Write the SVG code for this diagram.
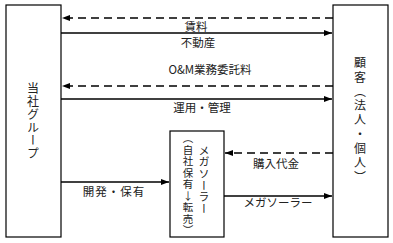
<svg xmlns="http://www.w3.org/2000/svg" width="393" height="243" viewBox="0 0 393 243">
<defs>
<marker id="ah" viewBox="0 0 8 6" refX="8" refY="3" markerWidth="8" markerHeight="6" markerUnits="userSpaceOnUse" orient="auto">
<path d="M0,0 L8,3 L0,6 Z" fill="#000"/>
</marker>
</defs>
<style>
.box{fill:#fff;stroke:#000;stroke-width:1.2}
.ln{stroke:#000;stroke-width:1.5;fill:none}
.d{stroke-dasharray:8 5}
.t{font-family:"Noto Sans CJK JP","Noto Sans",sans-serif;font-size:11.5px;fill:#222;text-anchor:middle}
.v{font-family:"Noto Sans CJK JP","Noto Sans",sans-serif;fill:#222;writing-mode:vertical-rl;text-anchor:middle}
.up{text-orientation:upright}
</style>
<rect width="393" height="243" fill="#fff"/>
<g id="toshaGroup">
<rect class="box" x="6" y="5" width="55" height="232"/>
<text class="v" x="33" y="121" font-size="12" letter-spacing="1">当社グループ</text>
</g>
<g id="kokyaku">
<rect class="box" x="333" y="5" width="55" height="232"/>
<text class="v" x="360" y="121" font-size="12" letter-spacing="2.3">顧客（法人・個人）</text>
</g>
<g id="megasolar">
<rect class="box" x="170" y="131" width="54" height="106"/>
<text class="v" x="204" y="180" font-size="11" letter-spacing="0.6">メガソーラー</text>
<text class="v" x="188" y="185" font-size="10.5" letter-spacing="1">（自社保有<tspan class="up">↓</tspan>転売）</text>
</g>
<g id="connectors">
<line class="ln d" x1="333" y1="18" x2="62" y2="18" marker-end="url(#ah)"/>
<line class="ln" x1="61" y1="33" x2="332" y2="33" marker-end="url(#ah)"/>
<line class="ln d" x1="333" y1="86" x2="62" y2="86" marker-end="url(#ah)"/>
<line class="ln" x1="61" y1="99" x2="332" y2="99" marker-end="url(#ah)"/>
<line class="ln d" x1="333" y1="153" x2="225" y2="153" marker-end="url(#ah)"/>
<line class="ln" x1="224" y1="196" x2="332" y2="196" marker-end="url(#ah)"/>
<line class="ln" x1="61" y1="182" x2="169" y2="182" marker-end="url(#ah)"/>
<text class="t" x="196" y="30.5">賃料</text>
<text class="t" x="198" y="47">不動産</text>
<text class="t" x="210" y="74">O&amp;M業務委託料</text>
<text class="t" x="202" y="112">運用・管理</text>
<text class="t" x="276" y="168">購入代金</text>
<text class="t" x="278" y="207">メガソーラー</text>
<text class="t" x="114" y="196" letter-spacing="1">開発・保有</text>
</g>
</svg>
